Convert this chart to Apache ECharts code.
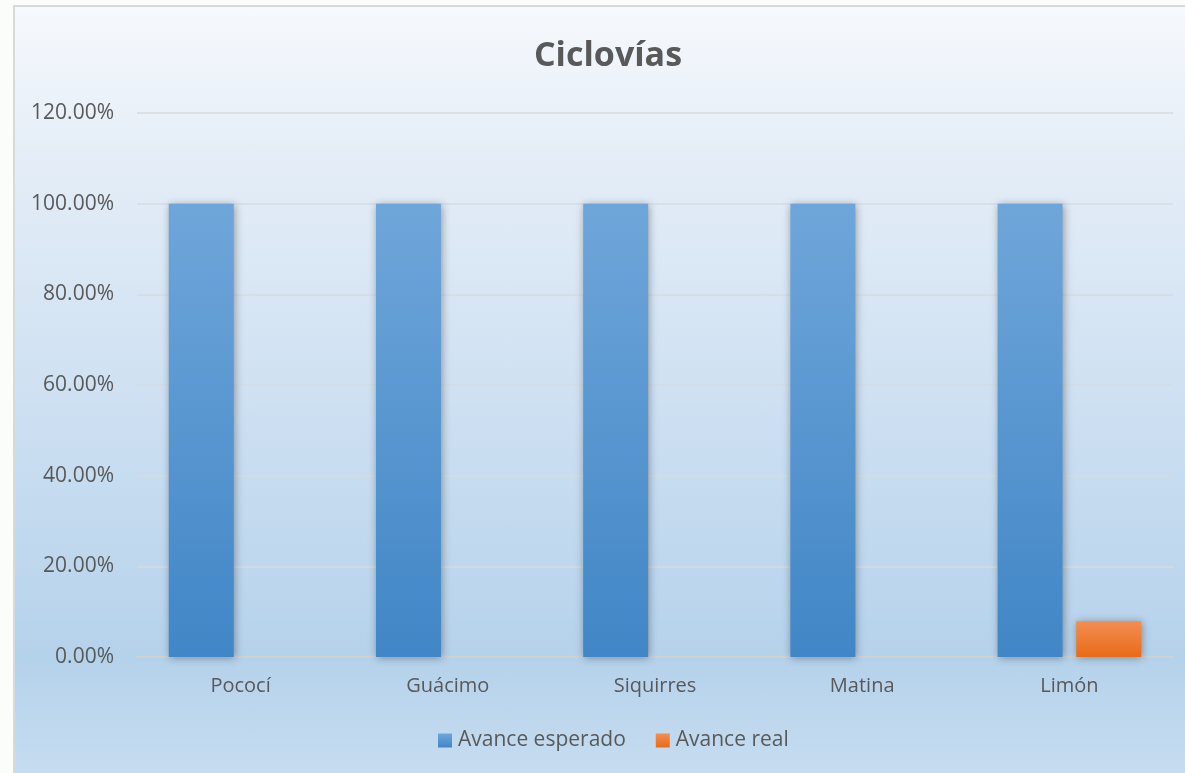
<!DOCTYPE html>
<html><head><meta charset="utf-8">
<script src="https://cdn.jsdelivr.net/npm/echarts@6/dist/echarts.min.js"></script>
<style>
html,body{margin:0;padding:0;width:1185px;height:773px;overflow:hidden;background:#fbfdfa;}
#frame{position:absolute;left:13px;top:5px;width:1172px;height:768px;box-sizing:border-box;border:2px solid #d9d9d9;border-right:none;border-bottom:none;
background:linear-gradient(to bottom,#f6f9fd 0%,#e4edf7 20%,#cfe1f2 50%,#b5d2eb 85%,#c6dcf0 100%);}
#chart{position:absolute;left:0;top:0;width:1185px;height:773px;}
</style></head>
<body>
<div id="frame"></div>
<div id="chart"></div>
<script>
const titleText = 'Ciclovías';
const categories = ['Pococí','Guácimo','Siquirres','Matina','Limón'];
const seriesNames = ['Avance esperado','Avance real'];
const avanceEsperado = [100, 100, 100, 100, 100];
const avanceReal = [0, 0, 0, 0, 7.9];
const yTicks = {min:0, max:120, interval:20};

const font = '"Open Sans", sans-serif';
const chart = echarts.init(document.getElementById('chart'), null, {renderer:'canvas'});
const grad = (a,b)=>new echarts.graphic.LinearGradient(0,0,0,1,[{offset:0,color:a},{offset:1,color:b}]);
chart.setOption({
  backgroundColor:'transparent',
  animation:false,
  title:{text:titleText,left:603,top:34,textAlign:'center',
    textStyle:{fontFamily:font,fontSize:34,fontWeight:'bold',color:'#595959'}},
  legend:{bottom:17,left:433,itemWidth:14,itemHeight:14,itemGap:30,icon:'rect',
    textStyle:{fontFamily:font,fontSize:21,color:'#595959',padding:[0,0,0,1]},
    data:seriesNames},
  grid:{left:137,right:12,top:113,bottom:116},
  xAxis:{type:'category',data:categories,
    axisLine:{lineStyle:{color:'#d0d0d0',width:2}},axisTick:{show:false},
    axisLabel:{fontFamily:font,fontSize:20,color:'#595959',margin:19}},
  yAxis:{type:'value',min:yTicks.min,max:yTicks.max,interval:yTicks.interval,
    axisLine:{show:false},axisTick:{show:false},
    splitLine:{lineStyle:{color:'#d6dbe1',width:1.5}},
    axisLabel:{fontFamily:font,fontSize:21,color:'#595959',margin:23,
      formatter:v=>v.toFixed(2)+'%'}},
  series:[
    {name:seriesNames[0],type:'bar',data:avanceEsperado,barWidth:65,barGap:'21%',
      itemStyle:{color:grad('#6fa6da','#4186c6'),shadowColor:'rgba(0,0,0,0.35)',shadowBlur:8,shadowOffsetX:1,shadowOffsetY:1}},
    {name:seriesNames[1],type:'bar',data:avanceReal,barWidth:65,
      itemStyle:{color:grad('#f28e52','#e86b18'),shadowColor:'rgba(0,0,0,0.35)',shadowBlur:8,shadowOffsetX:1,shadowOffsetY:1}}
  ]
});
</script>
</body></html>
